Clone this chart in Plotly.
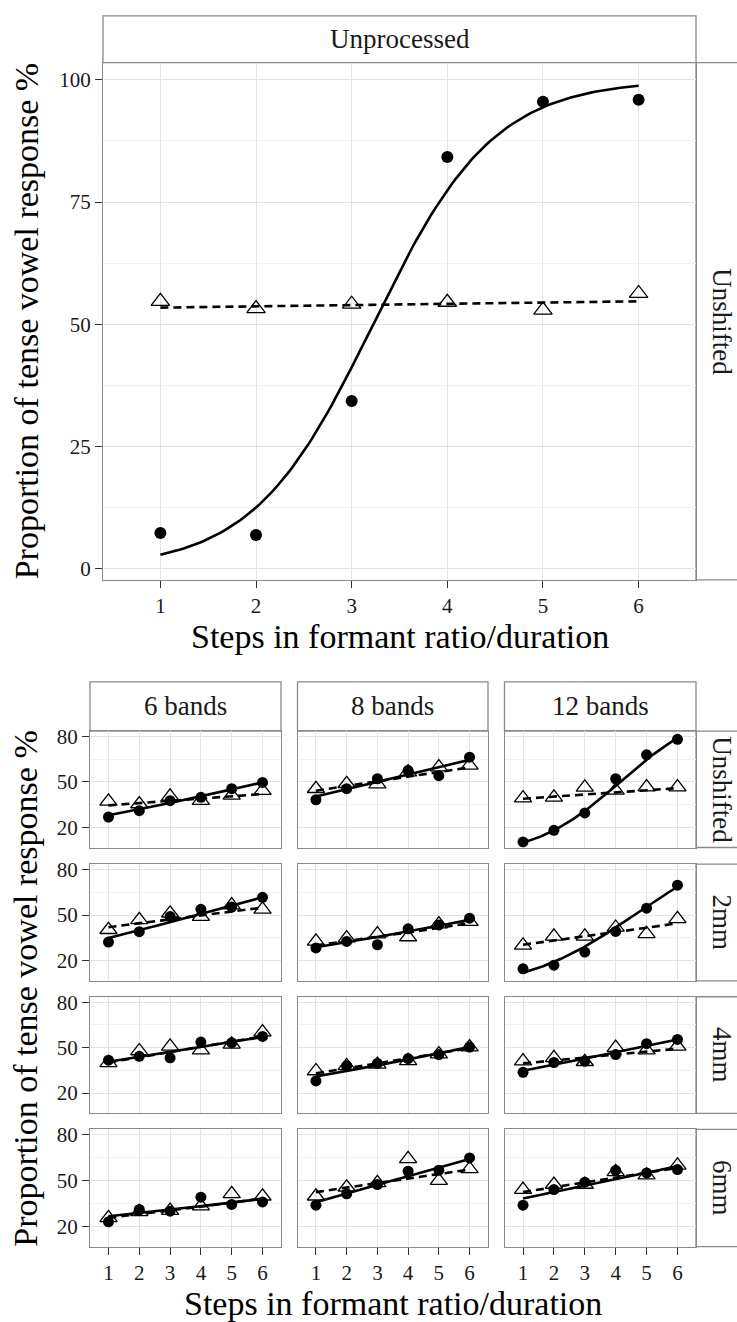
import numpy as np
import plotly.graph_objects as go

W, H = 737, 1322

steps = [1, 2, 3, 4, 5, 6]

# ---------------- Top panel (Unprocessed / Unshifted) ----------------
top_circles = [7.3, 6.9, 34.3, 84.2, 95.5, 95.9]
top_triangles = [54.7, 53.2, 54.1, 54.5, 52.9, 56.3]
# logistic fit coefficients (logit intercept, slope)
top_fit_circles = (-5.12, 1.588)
top_fit_triangles = (0.126, 0.0104)

# ---------------- Small panels ----------------
bands = ["6 bands", "8 bands", "12 bands"]
shifts = ["Unshifted", "2mm", "4mm", "6mm"]

# rows: Unshifted, 2mm, 4mm, 6mm
circles_6 = [[26.8, 31.0, 37.6, 39.8, 45.5, 49.7],
             [32.2, 39.0, 49.0, 53.8, 55.3, 61.7],
             [41.7, 44.3, 43.3, 53.7, 53.3, 57.4],
             [22.9, 31.0, 29.9, 39.1, 34.3, 36.0]]
triangles_6 = [[37.1, 35.4, 40.4, 37.6, 41.1, 44.2],
               [40.3, 46.8, 51.2, 49.0, 56.6, 53.8],
               [40.0, 47.8, 50.9, 48.3, 52.2, 60.2],
               [25.5, 29.5, 30.3, 33.2, 41.3, 39.7]]
circles_8 = [[38.2, 45.5, 52.1, 57.6, 54.1, 66.4],
             [28.3, 32.6, 30.4, 40.9, 43.5, 47.9],
             [28.0, 38.0, 39.6, 42.8, 45.4, 50.4],
             [33.8, 41.3, 47.4, 56.1, 56.8, 64.8]]
triangles_8 = [[45.5, 48.8, 48.6, 56.5, 59.8, 60.9],
               [32.6, 34.8, 37.4, 35.5, 44.0, 45.7],
               [34.6, 38.0, 38.9, 41.3, 45.7, 50.4],
               [39.7, 45.6, 48.5, 64.2, 50.0, 57.6]]
circles_12 = [[10.3, 18.0, 29.5, 52.1, 67.9, 78.2],
              [14.5, 16.9, 25.6, 39.2, 54.5, 69.7],
              [33.7, 40.2, 41.1, 45.4, 52.6, 55.4],
              [33.8, 44.1, 48.9, 56.6, 55.0, 57.2]]
triangles_12 = [[39.3, 39.8, 46.4, 44.4, 46.6, 46.6],
                [30.0, 35.9, 35.9, 41.8, 37.6, 47.5],
                [41.1, 43.3, 40.7, 50.0, 48.3, 50.9],
                [44.1, 47.4, 47.4, 55.7, 53.5, 60.0]]

# logistic fit coefficients (intercept, slope) per row for each band condition
fit_c_6 = [(-1.136, 0.1874), (-0.849, 0.221), (-0.508, 0.1316), (-1.120, 0.105)]
fit_t_6 = [(-0.705, 0.0636), (-0.427, 0.104), (-0.536, 0.139), (-1.190, 0.1182)]
fit_c_8 = [(-0.587, 0.198), (-1.066, 0.1564), (-0.969, 0.1642), (-0.818, 0.2336)]
fit_t_8 = [(-0.357, 0.1244), (-0.973, 0.126), (-0.848, 0.14), (-0.425, 0.1192)]
fit_c_12 = [(-2.94, 0.71), (-2.556, 0.556), (-0.797, 0.169), (-0.653, 0.1724)]
fit_t_12 = [(-0.510, 0.0576), (-0.950, 0.1222), (-0.501, 0.0788), (-0.434, 0.1282)]

top_yticks = [0, 25, 50, 75, 100]
small_yticks = [20, 50, 80]

FONT = "Liberation Serif"
GRID = "#e3e3e3"
MINOR = "#f1f1f1"
BORDER = "#8a8a8a"
TITLE_SIZE = 34
STRIP_SIZE = 27
TICK_SIZE = 21


def px(x):
    return x / W


def py(y):
    return 1 - y / H


def logistic(a, b, x):
    return 100.0 / (1.0 + np.exp(-(a + b * x)))


fig = go.Figure()
layout = dict(
    width=W, height=H, autosize=False,
    margin=dict(l=0, r=0, t=0, b=0),
    paper_bgcolor="white", plot_bgcolor="white",
    showlegend=False,
    font=dict(family=FONT, color="#1a1a1a"),
)
shapes = []
annotations = []

xs = np.linspace(1, 6, 121)


def text_ann(text, x, y, size, angle=0, color="#1a1a1a"):
    return dict(text=text, xref="paper", yref="paper", x=px(x), y=py(y),
                xanchor="center", yanchor="middle", showarrow=False,
                textangle=angle, font=dict(family=FONT, size=size, color=color))


def add_panel(idx, circles, tris, fc, ft, xdom, ydom, yrange, yticks, yminor,
              show_x, show_y, csize, tsize):
    xname = "x" if idx == 1 else f"x{idx}"
    yname = "y" if idx == 1 else f"y{idx}"
    xkey = "xaxis" if idx == 1 else f"xaxis{idx}"
    ykey = "yaxis" if idx == 1 else f"yaxis{idx}"
    fig.add_trace(go.Scatter(
        x=steps, y=tris, mode="markers", xaxis=xname, yaxis=yname,
        marker=dict(symbol="triangle-up-open", size=tsize, color="black",
                    line=dict(width=1.3, color="black")),
        hoverinfo="skip"))
    fig.add_trace(go.Scatter(
        x=steps, y=circles, mode="markers", xaxis=xname, yaxis=yname,
        marker=dict(symbol="circle", size=csize, color="black"),
        hoverinfo="skip"))
    fig.add_trace(go.Scatter(
        x=xs, y=logistic(ft[0], ft[1], xs), mode="lines", xaxis=xname, yaxis=yname,
        line=dict(color="black", width=2.6, dash="8px,5px"), hoverinfo="skip"))
    fig.add_trace(go.Scatter(
        x=xs, y=logistic(fc[0], fc[1], xs), mode="lines", xaxis=xname, yaxis=yname,
        line=dict(color="black", width=2.6), hoverinfo="skip"))
    layout[xkey] = dict(
        domain=[px(xdom[0]), px(xdom[1])], anchor=yname, range=[0.4, 6.6],
        tickvals=steps, ticktext=[str(s) for s in steps],
        showticklabels=show_x, ticks="outside" if show_x else "",
        ticklen=7, tickwidth=1.4, tickcolor="#333333",
        tickfont=dict(family=FONT, size=TICK_SIZE, color="#1a1a1a"),
        showgrid=True, gridcolor=GRID, gridwidth=1, zeroline=False,
        showline=True, mirror=True, linecolor=BORDER, linewidth=1.3,
        fixedrange=True)
    layout[ykey] = dict(
        domain=[py(ydom[1]), py(ydom[0])], anchor=xname, range=yrange,
        tickvals=yticks, ticktext=[str(v) for v in yticks],
        showticklabels=show_y, ticks="outside" if show_y else "",
        ticklen=7, tickwidth=1.4, tickcolor="#333333",
        tickfont=dict(family=FONT, size=TICK_SIZE, color="#1a1a1a"),
        showgrid=True, gridcolor=GRID, gridwidth=1, zeroline=False,
        minor=dict(tickvals=yminor, showgrid=True, gridcolor=MINOR, ticks=""),
        showline=True, mirror=True, linecolor=BORDER, linewidth=1.3,
        fixedrange=True)


# ---- top panel
TOP_X = (103, 696)
TOP_Y = (57, 577)
add_panel(1, top_circles, top_triangles, top_fit_circles, top_fit_triangles,
          TOP_X, TOP_Y, [-2.3, 103.5], top_yticks, [12.5, 37.5, 62.5, 87.5],
          True, True, 12, 16)

shapes.append(dict(type="rect", xref="paper", yref="paper",
                   x0=px(TOP_X[0]), x1=px(TOP_X[1]), y0=py(TOP_Y[0]), y1=py(10),
                   line=dict(color=BORDER, width=1.3), fillcolor="white", layer="below"))
annotations.append(text_ann("Unprocessed", (TOP_X[0] + TOP_X[1]) / 2, 33.5, STRIP_SIZE))
shapes.append(dict(type="rect", xref="paper", yref="paper",
                   x0=px(TOP_X[1]), x1=px(760), y0=py(TOP_Y[1]), y1=py(TOP_Y[0]),
                   line=dict(color=BORDER, width=1.3), fillcolor="white", layer="below"))
annotations.append(text_ann("Unshifted", 722, (TOP_Y[0] + TOP_Y[1]) / 2, STRIP_SIZE, 90))
annotations.append(text_ann("Steps in formant ratio/duration", 399.5, 634, TITLE_SIZE,
                            color="#000000"))
annotations.append(text_ann("Proportion of tense vowel response %", 26, 317, TITLE_SIZE, -90,
                            color="#000000"))

# ---- small panels
COLS = [(90, 281), (297.5, 488), (504.5, 696)]
ROWS = [(729, 846), (862.7, 980), (996, 1113.3), (1129.3, 1247.3)]
circ_all = [circles_6, circles_8, circles_12]
tri_all = [triangles_6, triangles_8, triangles_12]
fc_all = [fit_c_6, fit_c_8, fit_c_12]
ft_all = [fit_t_6, fit_t_8, fit_t_12]

idx = 2
for r, rdom in enumerate(ROWS):
    for c, cdom in enumerate(COLS):
        add_panel(idx, circ_all[c][r], tri_all[c][r], fc_all[c][r], ft_all[c][r],
                  cdom, rdom, [6.6, 83.6], small_yticks, [35, 65],
                  r == len(ROWS) - 1, c == 0, 11, 15)
        idx += 1
    shapes.append(dict(type="rect", xref="paper", yref="paper",
                       x0=px(COLS[-1][1]), x1=px(760), y0=py(rdom[1]), y1=py(rdom[0]),
                       line=dict(color=BORDER, width=1.3), fillcolor="white", layer="below"))
    annotations.append(text_ann(shifts[r], 722, (rdom[0] + rdom[1]) / 2, STRIP_SIZE, 90))

for c, cdom in enumerate(COLS):
    shapes.append(dict(type="rect", xref="paper", yref="paper",
                       x0=px(cdom[0]), x1=px(cdom[1]), y0=py(ROWS[0][0]), y1=py(679.5),
                       line=dict(color=BORDER, width=1.3), fillcolor="white", layer="below"))
    annotations.append(text_ann(bands[c], (cdom[0] + cdom[1]) / 2, 704, STRIP_SIZE))

annotations.append(text_ann("Steps in formant ratio/duration", 393, 1304, TITLE_SIZE,
                            color="#000000"))
annotations.append(text_ann("Proportion of tense vowel response %", 26, 988, TITLE_SIZE, -90,
                            color="#000000"))

layout["shapes"] = shapes
layout["annotations"] = annotations
fig.update_layout(**layout)
fig.write_html("out.html", config={"displayModeBar": False},
               post_script="document.body.style.margin='0';document.body.style.overflow='hidden';")
